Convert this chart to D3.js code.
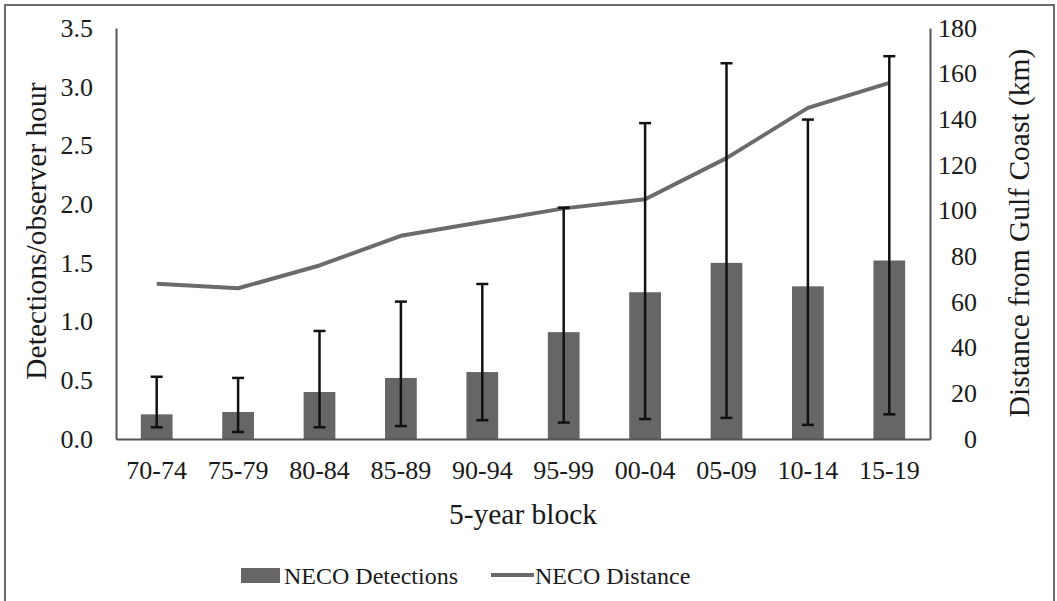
<!DOCTYPE html>
<html>
<head>
<meta charset="utf-8">
<script src="https://cdn.jsdelivr.net/npm/d3@7"></script>
<style>
  body { margin: 0; background: #fff; }
</style>
</head>
<body>
<div id="chart"></div>
<script>
// data
const blocks = ["70-74", "75-79", "80-84", "85-89", "90-94", "95-99", "00-04", "05-09", "10-14", "15-19"];
const detections = [0.21, 0.23, 0.40, 0.52, 0.57, 0.91, 1.25, 1.50, 1.30, 1.52];
const errLow = [0.10, 0.06, 0.10, 0.11, 0.16, 0.14, 0.17, 0.18, 0.12, 0.21];
const errHigh = [0.53, 0.52, 0.92, 1.17, 1.32, 1.97, 2.69, 3.20, 2.72, 3.26];
const distance = [68, 66, 76, 89, 95, 101, 105, 123, 145, 156];
const leftTicks = [0, 0.5, 1.0, 1.5, 2.0, 2.5, 3.0, 3.5];
const rightTicks = [0, 20, 40, 60, 80, 100, 120, 140, 160, 180];

const svgWidth = 1057, svgHeight = 601;
const plot = { left: 116, right: 930, top: 28, bottom: 439 };
const serif = '"Liberation Serif", "Times New Roman", serif';
const ink = '#1a1a1a';

const svg = d3.select('#chart')
  .append('svg')
    .attr('width', svgWidth)
    .attr('height', svgHeight);

// outer frame (bottom edge is cut off in the original)
svg.append('path')
    .attr('d', `M5,${svgHeight + 5}V5H1054V${svgHeight + 5}`)
    .attr('fill', 'none')
    .attr('stroke', '#6a6a6a')
    .attr('stroke-width', 2);

const x = d3.scaleBand()
    .domain(blocks)
    .range([plot.left, plot.right])
    .paddingInner(0.61)
    .paddingOuter(0.305);

const xCenter = d3.scaleBand()
    .domain(blocks)
    .range([plot.left, plot.right]);

const yLeft = d3.scaleLinear().domain([0, 3.5]).range([plot.bottom, plot.top]);
const yRight = d3.scaleLinear().domain([0, 180]).range([plot.bottom, plot.top]);

// bars
svg.append('g').selectAll('rect')
  .data(detections)
  .join('rect')
    .attr('x', (d, i) => x(blocks[i]))
    .attr('y', d => yLeft(d))
    .attr('width', x.bandwidth())
    .attr('height', d => yLeft(0) - yLeft(d))
    .attr('fill', '#666666');

// distance line
const line = d3.line()
    .x((d, i) => xCenter(blocks[i]) + xCenter.bandwidth() / 2)
    .y(d => yRight(d));

svg.append('path')
    .datum(distance)
    .attr('d', line)
    .attr('fill', 'none')
    .attr('stroke', '#6b6b6b')
    .attr('stroke-width', 4)
    .attr('stroke-linejoin', 'round');

// error bars
const eb = svg.append('g').attr('stroke', '#111').attr('stroke-width', 2.5);
blocks.forEach((b, i) => {
  const cx = xCenter(b) + xCenter.bandwidth() / 2;
  eb.append('line')
      .attr('x1', cx).attr('x2', cx)
      .attr('y1', yLeft(errLow[i])).attr('y2', yLeft(errHigh[i]));
  [errLow[i], errHigh[i]].forEach(v => {
    eb.append('line')
        .attr('x1', cx - 6).attr('x2', cx + 6)
        .attr('y1', yLeft(v)).attr('y2', yLeft(v));
  });
});

// axes
const leftAxis = svg.append('g')
    .attr('transform', `translate(${plot.left},0)`)
    .call(d3.axisLeft(yLeft).tickValues(leftTicks).tickFormat(d3.format('.1f')).tickSize(0).tickPadding(23));

const rightAxis = svg.append('g')
    .attr('transform', `translate(${plot.right},0)`)
    .call(d3.axisRight(yRight).tickValues(rightTicks).tickSize(0).tickPadding(47));
rightAxis.selectAll('text').attr('text-anchor', 'end');

const bottomAxis = svg.append('g')
    .attr('transform', `translate(0,${plot.bottom})`)
    .call(d3.axisBottom(xCenter).tickSize(0));
bottomAxis.selectAll('text').attr('dy', null).attr('y', 40);

[leftAxis, rightAxis, bottomAxis].forEach(a => {
  a.select('.domain').attr('stroke', '#555').attr('stroke-width', 2);
  a.selectAll('text')
      .attr('font-size', 26)
      .style('font-family', serif)
      .attr('fill', ink);
});

// axis titles
function title(t, tr, size) {
  return svg.append('text')
      .attr('transform', tr)
      .attr('text-anchor', 'middle')
      .attr('font-size', size)
      .attr('fill', ink)
      .style('font-family', serif)
      .text(t);
}
title('Detections/observer hour', 'translate(46,231) rotate(-90)', 29.5);
title('Distance from Gulf Coast (km)', 'translate(1029,233) rotate(-90)', 29.5);
title('5-year block', 'translate(523,524)', 29.5);

// legend
const legend = svg.append('g');
legend.append('rect')
    .attr('x', 241).attr('y', 568).attr('width', 39).attr('height', 15)
    .attr('fill', '#666666');
legend.append('text')
    .attr('x', 284).attr('y', 584)
    .attr('font-size', 24)
    .attr('fill', ink)
    .style('font-family', serif)
    .text('NECO Detections');
legend.append('line')
    .attr('x1', 491).attr('x2', 534).attr('y1', 575).attr('y2', 575)
    .attr('stroke', '#6b6b6b').attr('stroke-width', 4);
legend.append('text')
    .attr('x', 535).attr('y', 584)
    .attr('font-size', 24)
    .attr('fill', ink)
    .style('font-family', serif)
    .text('NECO Distance');
</script>
</body>
</html>
